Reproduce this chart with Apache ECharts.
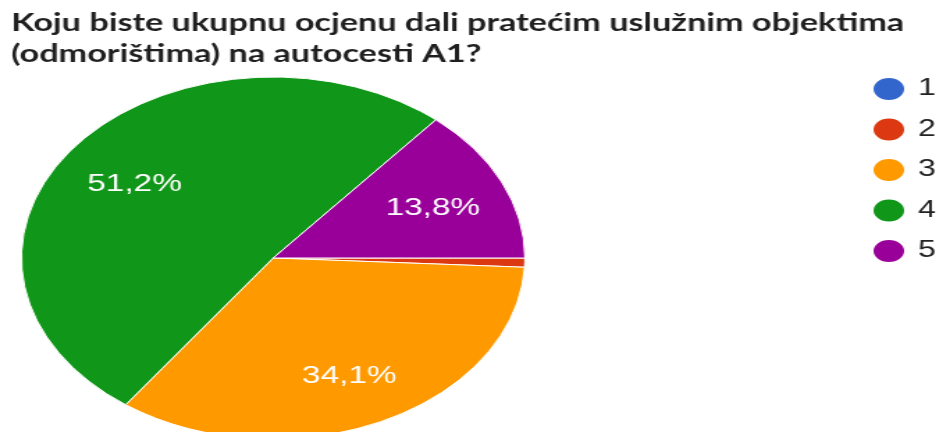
<!DOCTYPE html>
<html>
<head>
<meta charset="utf-8">
<script src="https://cdn.jsdelivr.net/npm/echarts@6/dist/echarts.min.js"></script>
<style>
  html, body { margin: 0; padding: 0; background: #fff; overflow: hidden; }
  #wrap { width: 939px; height: 432px; overflow: hidden; }
  /* chart is laid out narrower and stretched horizontally */
  #chart { width: 675px; height: 432px; transform: scaleX(1.391); transform-origin: 0 0; }
</style>
</head>
<body>
<div id="wrap"><div id="chart"></div></div>
<script>
const titleLines = ['Koju biste ukupnu ocjenu dali pratećim uslužnim objektima', '(odmorištima) na autocesti A1?'];
const categories = ['1', '2', '3', '4', '5'];
const counts = [0, 1, 42, 63, 17];
const colors = ['#3366cc', '#dc3912', '#ff9900', '#109618', '#990099'];

const data = categories.map((c, i) => ({ name: c, value: counts[i] }));
const total = counts.reduce((a, b) => a + b, 0);
const pct = v => (v / total * 100).toFixed(1).replace('.', ',') + '%';

const chart = echarts.init(document.getElementById('chart'), null, { renderer: 'canvas' });
chart.setOption({
  animation: false,
  color: colors,
  title: {
    text: titleLines.join('\n'),
    left: 8, top: 8, padding: 0,
    textStyle: { fontFamily: 'Lato', fontWeight: 'bold', fontSize: 24.6, lineHeight: 31, color: '#1f1f1f' }
  },
  legend: {
    orient: 'vertical',
    left: 626, top: 76, padding: 0,
    icon: 'circle',
    itemWidth: 24, itemHeight: 24, itemGap: 14.5,
    textStyle: { fontFamily: 'Liberation Sans', fontSize: 23, color: '#222', padding: [0, 0, 0, 4] },
    data: categories
  },
  series: [
    {
      type: 'pie',
      center: [196.4, 258],
      radius: [0, 181],
      startAngle: 0,
      clockwise: true,
      avoidLabelOverlap: false,
      label: { show: false },
      labelLine: { show: false },
      itemStyle: { borderColor: '#fff', borderWidth: 1 },
      emphasis: { disabled: true },
      data: data
    },
    {
      // transparent ring that carries the percentage labels
      type: 'pie',
      center: [196.4, 258],
      radius: [66, 181],
      startAngle: 0,
      clockwise: true,
      silent: true,
      avoidLabelOverlap: false,
      legendHoverLink: false,
      itemStyle: { color: 'transparent', borderWidth: 0 },
      label: {
        show: true, position: 'inside', offset: [0, 4],
        fontFamily: 'Liberation Sans', fontSize: 24, color: '#fff',
        formatter: p => (p.percent >= 5 ? pct(p.value) : '')
      },
      labelLine: { show: false },
      emphasis: { disabled: true },
      data: data.map(d => ({ name: d.name, value: d.value }))
    }
  ]
});
</script>
</body>
</html>
